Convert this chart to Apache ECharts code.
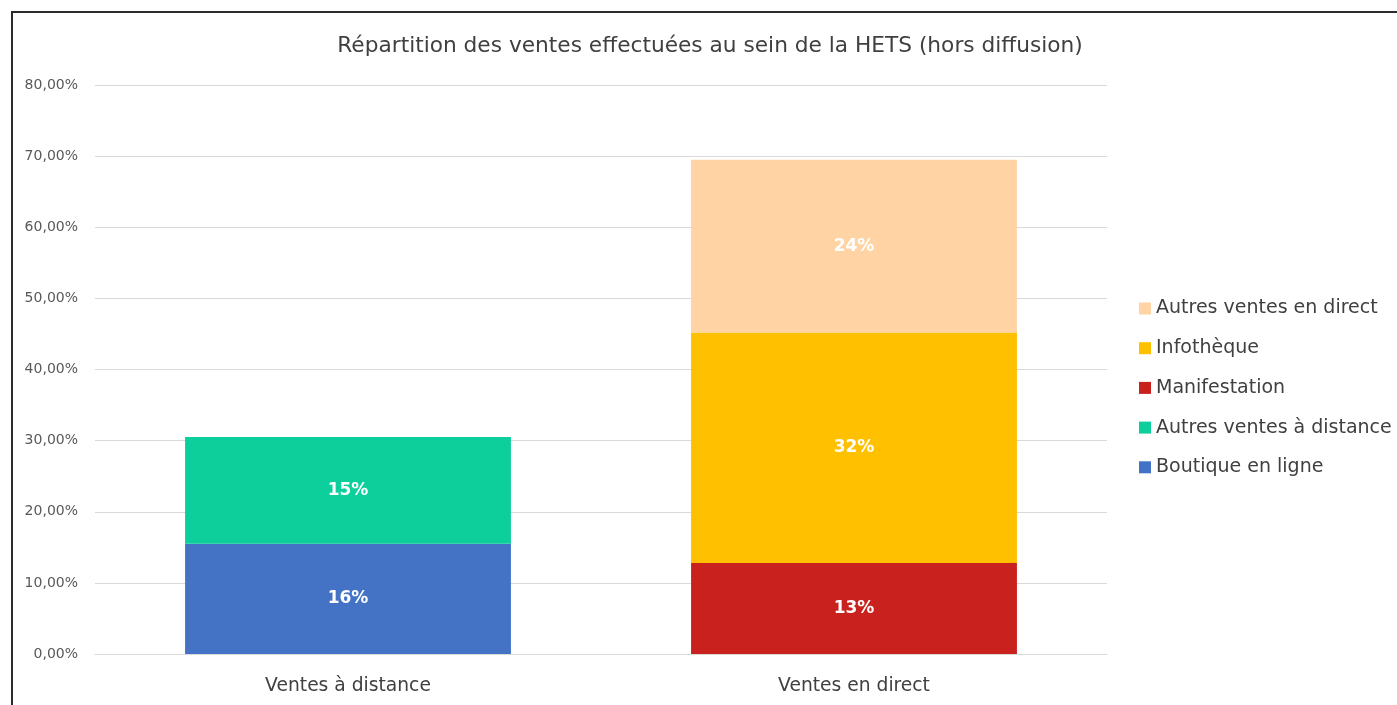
<!DOCTYPE html>
<html>
<head>
<meta charset="utf-8">
<script src="https://cdn.jsdelivr.net/npm/echarts@6/dist/echarts.min.js"></script>
<style>
html,body{margin:0;padding:0;background:#fff;}
#c{width:1397px;height:705px;}
#frame{position:absolute;left:11px;top:11px;width:1400px;height:710px;border-left:2px solid #2b2b2b;border-top:2px solid #2b2b2b;pointer-events:none;}
</style>
</head>
<body>
<div id="c"></div>
<div id="frame"></div>
<script>
const categories = ['Ventes à distance', 'Ventes en direct'];
const boutiqueEnLigne = [15.5, '-'];
const autresVentesADistance = [15.0, '-'];
const manifestation = ['-', 12.8];
const infotheque = ['-', 32.4];
const autresVentesEnDirect = ['-', 24.3];
const yTicks = [0, 10, 20, 30, 40, 50, 60, 70, 80];
const legendOrder = ['Autres ventes en direct', 'Infothèque', 'Manifestation', 'Autres ventes à distance', 'Boutique en ligne'];

const FONT = 'DejaVu Sans';
const chart = echarts.init(document.getElementById('c'));

function mk(name, data, color) {
  return {
    name: name, type: 'bar', stack: 'total', data: data,
    barWidth: '64.4%',
    itemStyle: {color: color},
    label: {
      show: true, position: 'inside', color: '#fff', fontWeight: 'bold',
      fontFamily: FONT, fontSize: 17,
      formatter: p => Math.round(p.value) + '%'
    }
  };
}

chart.setOption({
  backgroundColor: '#fff',
  animation: false,
  title: {
    text: 'Répartition des ventes effectuées au sein de la HETS (hors diffusion)',
    left: 705, top: 30, textAlign: 'center',
    textStyle: {fontFamily: FONT, fontSize: 21.7, fontWeight: 'normal', color: '#404040'}
  },
  legend: {
    data: legendOrder,
    orient: 'vertical', left: 1134, top: 294,
    itemWidth: 12, itemHeight: 12, itemGap: 20.7,
    icon: 'rect',
    textStyle: {fontFamily: FONT, fontSize: 19, color: '#404040'}
  },
  grid: {left: 95, right: 290, top: 85, bottom: 51, containLabel: false},
  xAxis: {
    type: 'category', data: categories,
    axisLine: {show: true, lineStyle: {color: '#d9d9d9', width: 1}},
    axisTick: {show: false},
    axisLabel: {fontFamily: FONT, fontSize: 18.7, color: '#404040', margin: 23}
  },
  yAxis: {
    type: 'value', min: yTicks[0], max: yTicks[yTicks.length - 1], interval: 10,
    axisLine: {show: false}, axisTick: {show: false},
    splitLine: {lineStyle: {color: '#d9d9d9', width: 1}},
    axisLabel: {
      fontFamily: FONT, fontSize: 14, color: '#595959', margin: 17,
      formatter: v => v.toFixed(2).replace('.', ',') + '%'
    }
  },
  series: [
    mk('Boutique en ligne', boutiqueEnLigne, '#4472C4'),
    mk('Autres ventes à distance', autresVentesADistance, '#0DCF9B'),
    mk('Manifestation', manifestation, '#C9211E'),
    mk('Infothèque', infotheque, '#FFC000'),
    mk('Autres ventes en direct', autresVentesEnDirect, '#FFD3A4')
  ]
});
</script>
</body>
</html>
